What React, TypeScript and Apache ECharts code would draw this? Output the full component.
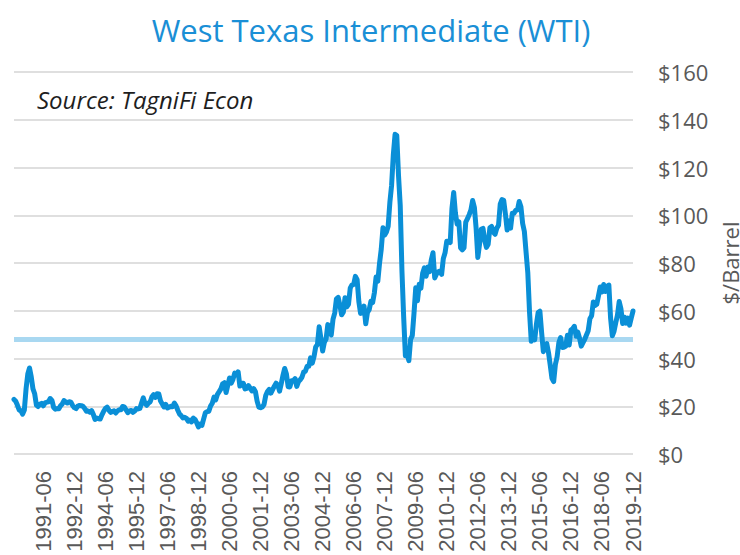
import React, { useEffect, useRef } from "react";
import * as echarts from "echarts";

// Monthly WTI spot price, $/barrel, Jan 1990 – Dec 2019
const wti1990s = [
  22.86, 22.11, 20.39, 18.43, 18.2, 16.7, 18.45, 27.31, 33.51, 36.04, 32.33, 27.28,
  25.23, 20.48, 19.9, 20.83, 21.23, 20.19, 21.4, 21.69, 21.89, 23.23, 22.46, 19.5,
  18.79, 19.01, 18.92, 20.23, 20.98, 22.39, 21.78, 21.34, 21.88, 21.69, 20.34, 19.41,
  19.03, 20.09, 20.32, 20.25, 19.95, 19.09, 17.89, 18.01, 17.5, 18.15, 16.61, 14.52,
  15.03, 14.78, 14.68, 16.42, 17.89, 19.06, 19.66, 18.38, 17.45, 17.72, 18.07, 17.16,
  18.04, 18.57, 18.54, 19.9, 19.74, 18.45, 17.33, 18.02, 18.23, 17.43, 17.99, 19.03,
  18.85, 19.09, 21.33, 23.5, 21.17, 20.42, 21.3, 21.9, 23.97, 24.88, 23.71, 25.23,
  25.13, 22.18, 20.97, 19.7, 20.82, 19.26, 19.66, 19.95, 19.8, 21.33, 20.19, 18.33,
  16.72, 16.06, 15.12, 15.35, 14.91, 13.72, 14.17, 13.47, 15.03, 14.46, 13.0, 11.35,
  12.52, 12.01, 14.68, 17.31, 17.72, 17.92, 20.1, 21.28, 23.8, 22.69, 25.0, 26.1,
];
const wti2000s = [
  27.26, 29.37, 29.84, 25.72, 28.79, 31.82, 29.7, 31.26, 33.88, 33.11, 34.42, 28.44,
  29.59, 29.61, 27.25, 27.49, 28.63, 27.6, 26.43, 27.37, 26.2, 22.17, 19.64, 19.39,
  19.72, 20.72, 24.53, 26.18, 27.04, 25.52, 26.97, 28.39, 29.66, 28.84, 26.35, 29.46,
  32.95, 35.83, 33.51, 28.17, 28.11, 30.66, 30.75, 31.57, 28.31, 30.34, 31.11, 32.13,
  34.31, 34.69, 36.74, 36.75, 40.28, 38.03, 40.78, 44.9, 45.94, 53.28, 48.47, 43.15,
  46.84, 48.15, 54.19, 52.98, 49.83, 56.35, 59.0, 64.99, 65.59, 62.26, 58.32, 59.41,
  65.49, 61.63, 62.69, 69.44, 70.84, 70.95, 74.41, 73.04, 63.8, 58.89, 59.08, 61.96,
  54.51, 59.28, 60.44, 63.98, 63.45, 67.49, 74.12, 72.36, 79.92, 85.8, 94.77, 91.69,
  92.97, 95.39, 105.45, 112.58, 125.4, 133.88, 133.37, 116.67, 104.11, 76.61, 57.31, 41.12,
  41.71, 39.09, 47.94, 49.65, 59.03, 69.64, 64.15, 71.05, 69.41, 75.72, 77.99, 74.47,
];
const wti2010s = [
  78.33, 76.39, 81.2, 84.29, 73.74, 75.34, 76.32, 76.6, 75.24, 81.89, 84.25, 89.15,
  89.17, 88.58, 102.86, 109.53, 100.9, 96.26, 97.3, 86.33, 85.52, 86.32, 97.16, 98.56,
  100.27, 102.2, 106.16, 103.32, 94.66, 82.3, 87.9, 94.13, 94.51, 89.49, 86.53, 87.86,
  94.76, 95.31, 92.94, 92.02, 94.51, 95.77, 104.67, 106.57, 106.29, 100.54, 93.86, 97.63,
  94.62, 100.82, 100.8, 102.07, 102.18, 105.79, 103.59, 96.54, 93.21, 84.4, 75.79, 59.29,
  47.22, 50.58, 47.82, 54.45, 59.27, 59.82, 50.9, 42.87, 45.48, 46.22, 42.44, 37.19,
  31.68, 30.32, 37.55, 40.75, 46.71, 48.76, 44.65, 44.72, 45.18, 49.78, 45.66, 51.97,
  52.5, 53.47, 49.33, 51.06, 48.48, 45.18, 46.63, 48.04, 49.82, 51.58, 56.64, 57.88,
  63.7, 62.23, 62.73, 66.25, 69.98, 67.87, 70.98, 68.06, 70.23, 70.75, 56.96, 49.52,
  51.38, 54.95, 58.15, 63.86, 60.83, 54.66, 57.35, 54.81, 56.95, 53.96, 57.03, 59.88,
];

const firstYear = 1990;
const lastYear = 2019;
const referenceLevel = 48;
const yMin = 0;
const yMax = 160;
const yStep = 20;
const labelEvery = 18; // one tick label every 18 months (…-06, …-12)

const categories: string[] = [];
for (let y = firstYear; y <= lastYear; y++) {
  for (let m = 1; m <= 12; m++) {
    categories.push(`${y}-${m < 10 ? "0" + m : m}`);
  }
}
const prices = [...wti1990s, ...wti2000s, ...wti2010s];

export default function App() {
  const ref = useRef<HTMLDivElement>(null);
  useEffect(() => {
    if (!ref.current) return;
    const chart = echarts.init(ref.current, undefined, { renderer: "svg" });
    chart.setOption({
      animation: false,
      backgroundColor: "#ffffff",
      title: {
        text: "West Texas Intermediate (WTI)",
        left: 366,
        top: 9,
        textAlign: "center",
        textStyle: {
          fontFamily: "Open Sans",
          fontSize: 31,
          fontWeight: "normal",
          color: "#1a8fd6",
        },
      },
      graphic: [
        {
          type: "text",
          left: 37,
          top: 87,
          style: {
            text: "Source: TagniFi Econ",
            fontFamily: "Open Sans",
            fontStyle: "italic",
            fontSize: 24,
            fill: "#1e1e1e",
          },
        },
      ],
      grid: {
        left: 14,
        right: 107,
        top: 72,
        bottom: 101,
        containLabel: false,
        outerBoundsMode: "none",
      },
      xAxis: {
        type: "category",
        data: categories,
        boundaryGap: false,
        axisLine: { show: false },
        axisTick: { show: false },
        splitLine: { show: false },
        axisLabel: {
          rotate: 90,
          interval: (index: number) => index % labelEvery === labelEvery - 1,
          margin: 17,
          fontFamily: "Liberation Sans, Arial, sans-serif",
          fontSize: 22,
          color: "#595959",
        },
      },
      yAxis: {
        type: "value",
        position: "right",
        min: yMin,
        max: yMax,
        interval: yStep,
        name: "$/Barrel",
        nameLocation: "middle",
        nameRotate: 90,
        nameGap: 72,
        nameTextStyle: { fontFamily: "Open Sans", fontSize: 22, lineHeight: 22, color: "#595959" },
        axisLine: { show: false },
        axisTick: { show: false },
        axisLabel: {
          margin: 25,
          fontFamily: "Open Sans",
          fontSize: 22,
          color: "#595959",
          formatter: (v: number) => "$" + v,
        },
        splitLine: { lineStyle: { color: "#d4d4d4", width: 1.5 } },
      },
      series: [
        {
          type: "line",
          data: [],
          z: 1,
          silent: true,
          markLine: {
            silent: true,
            symbol: "none",
            z: 1,
            label: { show: false },
            lineStyle: { color: "#a9d8f1", width: 5, type: "solid" },
            data: [{ yAxis: referenceLevel }],
          },
        },
        {
          type: "line",
          name: "WTI",
          data: prices,
          z: 3,
          showSymbol: false,
          symbol: "none",
          lineStyle: { color: "#0a8fd7", width: 5, cap: "round", join: "round" },
        },
      ],
    });
    return () => chart.dispose();
  }, []);
  return <div ref={ref} style={{ width: 740, height: 555, position: "absolute", left: 0, top: 0 }} />;
}
